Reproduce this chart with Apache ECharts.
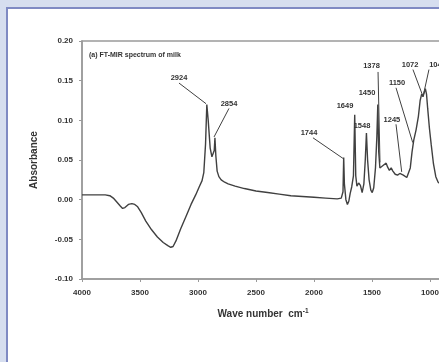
<!DOCTYPE html>
<html>
<head>
<meta charset="utf-8">
<script src="https://cdn.jsdelivr.net/npm/echarts@6/dist/echarts.min.js"></script>
<style>
  html, body { margin: 0; padding: 0; width: 439px; height: 362px; overflow: hidden; background: #d6deef; }
  #panel { position: absolute; left: 6px; top: 7px; width: 600px; height: 500px; background: #ffffff; border-left: 2px solid #7f8ac3; border-top: 2px solid #7f8ac3; }
  #chart { position: absolute; left: 0; top: 0; width: 439px; height: 362px; }
</style>
</head>
<body>
<div id="panel"></div>
<div id="chart"></div>
<script>
// Wavenumber (cm^-1) and absorbance
const wavenumbers = [4000, 3900, 3800, 3760, 3730, 3700, 3670, 3650, 3630, 3600, 3570, 3545, 3520, 3490, 3450, 3400, 3350, 3300, 3260, 3235, 3215, 3190, 3150, 3100, 3060, 3020, 2990, 2965, 2950, 2935, 2924, 2912, 2895, 2880, 2870, 2860, 2854, 2846, 2835, 2820, 2800, 2770, 2740, 2680, 2600, 2500, 2400, 2300, 2200, 2100, 2000, 1900, 1800, 1765, 1750, 1744, 1738, 1725, 1712, 1700, 1688, 1675, 1660, 1649, 1640, 1630, 1615, 1600, 1585, 1570, 1558, 1548, 1538, 1525, 1510, 1498, 1485, 1470, 1458, 1450, 1442, 1432, 1420, 1405, 1390, 1378, 1365, 1350, 1335, 1320, 1300, 1280, 1260, 1245, 1230, 1215, 1200, 1185, 1170, 1155, 1140, 1120, 1100, 1085, 1072, 1060, 1048, 1040, 1030, 1020, 1005, 990, 970, 950, 930, 900, 870, 840, 800];
const absorbance = [0.006, 0.006, 0.006, 0.005, 0.002, -0.003, -0.008, -0.011, -0.010, -0.006, -0.005, -0.006, -0.009, -0.016, -0.027, -0.038, -0.047, -0.054, -0.058, -0.060, -0.059, -0.052, -0.037, -0.020, -0.006, 0.006, 0.016, 0.024, 0.034, 0.070, 0.120, 0.100, 0.065, 0.054, 0.052, 0.062, 0.078, 0.055, 0.036, 0.029, 0.025, 0.022, 0.020, 0.017, 0.014, 0.011, 0.009, 0.007, 0.005, 0.004, 0.003, 0.002, 0.001, 0.002, 0.010, 0.053, 0.020, 0.000, -0.006, -0.002, 0.008, 0.016, 0.030, 0.107, 0.030, 0.017, 0.021, 0.018, 0.009, 0.020, 0.050, 0.084, 0.050, 0.025, 0.012, 0.009, 0.015, 0.040, 0.080, 0.120, 0.060, 0.040, 0.038, 0.043, 0.044, 0.046, 0.041, 0.037, 0.040, 0.036, 0.032, 0.031, 0.033, 0.034, 0.031, 0.029, 0.028, 0.030, 0.040, 0.060, 0.075, 0.088, 0.105, 0.125, 0.133, 0.130, 0.136, 0.140, 0.133, 0.115, 0.090, 0.070, 0.045, 0.029, 0.022, 0.019, 0.018, 0.018, 0.019];

// Peak labels
const peakLabels = ['2924', '2854', '1744', '1649', '1548', '1450', '1378', '1150', '1245', '1072', '1040'];

// Axis ticks
const xTickStep = 500;
const yTickStep = 0.05;

// Annotation placement (data coordinates): label anchor and leader line
const labelAt = [[3164, 0.154], [2733, 0.121], [2043, 0.084], [1733, 0.118], [1586, 0.093], [1543, 0.135], [1504, 0.169], [1284, 0.147], [1328, 0.101], [1172, 0.170], [935, 0.170]];
const leaders = [
  [[3164, 0.147], [2931, 0.121]],
  [[2733, 0.115], [2862, 0.079]],
  [[2009, 0.078], [1750, 0.052]],
  null,
  null,
  null,
  [[1448, 0.161], [1431, 0.047]],
  [[1293, 0.141], [1149, 0.072]],
  [[1293, 0.095], [1244, 0.035]],
  [[1147, 0.164], [1060, 0.130]],
  [[1009, 0.164], [1060, 0.130]]
];

const seriesData = wavenumbers.map((w, i) => [w, absorbance[i]]);
const font = 'Liberation Sans, Arial, sans-serif';

const chart = echarts.init(document.getElementById('chart'), null, { renderer: 'canvas' });
chart.setOption({
  backgroundColor: 'transparent',
  animation: false,
  grid: { left: 82, top: 41, height: 238, width: 406, containLabel: false, outerBoundsMode: 'none', show: true, borderColor: '#9a9a9a', borderWidth: 1.5, backgroundColor: 'transparent' },
  xAxis: {
    type: 'value', inverse: true, min: 500, max: 4000, interval: xTickStep,
    axisLine: { show: true, onZero: false, lineStyle: { color: '#9a9a9a', width: 1.5 } },
    axisTick: { show: true, length: 3, lineStyle: { color: '#9a9a9a' } },
    splitLine: { show: false },
    axisLabel: { fontSize: 8, fontFamily: font, color: '#333', fontWeight: 'bold', margin: 10, formatter: v => String(v) },
    name: 'Wave number  cm{sup|-1}',
    nameLocation: 'middle', nameGap: 29,
    nameTextStyle: { fontSize: 10, fontFamily: font, color: '#333', fontWeight: 'bold', padding: [0, 44, 0, 0], rich: { sup: { fontSize: 6.5, verticalAlign: 'top', padding: [0, 0, 6, 0], fontFamily: font, color: '#333', fontWeight: 'bold' } } }
  },
  yAxis: {
    type: 'value', min: -0.10, max: 0.20, interval: yTickStep,
    axisLine: { show: true, lineStyle: { color: '#9a9a9a', width: 1.5 } },
    axisTick: { show: true, length: 3, lineStyle: { color: '#9a9a9a' } },
    splitLine: { show: false },
    axisLabel: { fontSize: 8, fontFamily: font, color: '#333', fontWeight: 'bold', margin: 9, formatter: v => v.toFixed(2) },
    name: 'Absorbance', nameLocation: 'middle', nameGap: 43, nameRotate: 90,
    nameTextStyle: { fontSize: 10, fontFamily: font, color: '#333', fontWeight: 'bold' }
  },
  graphic: [{
    type: 'text', left: 89, top: 52,
    style: { text: '(a) FT-MIR spectrum of milk', fontSize: 7, fontFamily: font, fontWeight: 'bold', fill: '#333' }
  }],
  series: [{
    type: 'line', data: seriesData, showSymbol: false, smooth: false,
    lineStyle: { color: '#404040', width: 1.4 },
    clip: true,
    markPoint: {
      silent: true, symbol: 'circle', symbolSize: 1,
      itemStyle: { color: 'rgba(0,0,0,0)' },
      label: { show: true, position: 'inside', fontSize: 7.5, fontFamily: font, fontWeight: 'bold', color: '#333' },
      data: peakLabels.map((t, i) => ({ coord: labelAt[i], value: t, label: { formatter: t } }))
    },
    markLine: {
      silent: true, symbol: ['none', 'none'], animation: false,
      lineStyle: { color: '#404040', width: 1, type: 'solid' },
      label: { show: false },
      data: leaders.filter(l => l).map(l => [{ coord: l[0] }, { coord: l[1] }])
    }
  }]
});
</script>
</body>
</html>
